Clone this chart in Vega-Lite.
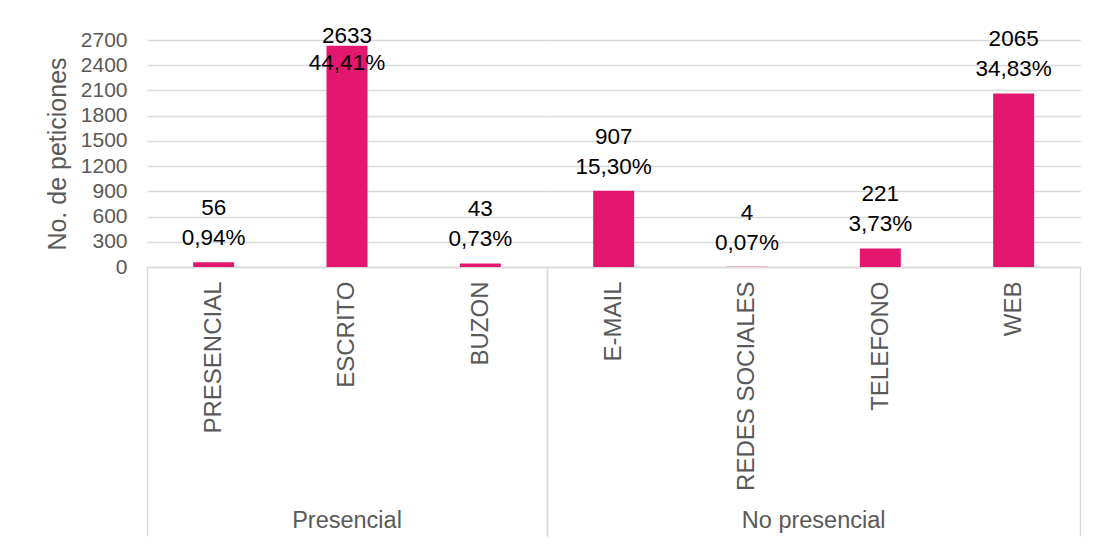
{
  "$schema": "https://vega.github.io/schema/vega-lite/v6.json",
  "padding": {"left": 45, "top": 24, "right": 5, "bottom": 5},
  "background": "white",
  "data": {
    "values": [
      {"grupo": "Presencial", "canal": "PRESENCIAL", "n": 56, "pct": "0,94%"},
      {"grupo": "Presencial", "canal": "ESCRITO", "n": 2633, "pct": "44,41%"},
      {"grupo": "Presencial", "canal": "BUZON", "n": 43, "pct": "0,73%"},
      {"grupo": "No presencial", "canal": "E-MAIL", "n": 907, "pct": "15,30%"},
      {"grupo": "No presencial", "canal": "REDES SOCIALES", "n": 4, "pct": "0,07%"},
      {"grupo": "No presencial", "canal": "TELEFONO", "n": 221, "pct": "3,73%"},
      {"grupo": "No presencial", "canal": "WEB", "n": 2065, "pct": "34,83%"}
    ]
  },
  "facet": {
    "column": {
      "field": "grupo",
      "type": "nominal",
      "sort": ["Presencial", "No presencial"],
      "header": {
        "title": null,
        "labelOrient": "bottom",
        "labelFont": "Liberation Sans",
        "labelFontSize": 23.5,
        "labelColor": "#595959",
        "labelPadding": 242
      }
    }
  },
  "spacing": 0,
  "bounds": "flush",
  "resolve": {"scale": {"x": "independent"}},
  "spec": {
    "width": {"step": 133.33},
    "height": 227,
    "encoding": {
      "x": {
        "field": "canal",
        "type": "nominal",
        "sort": null,
        "scale": {"paddingInner": 0, "paddingOuter": 0},
        "axis": {
          "title": null,
          "labelAngle": -90,
          "labelFont": "Liberation Sans",
          "labelFontSize": 24,
          "labelColor": "#595959",
          "labelPadding": -255,
          "labelLimit": 400,
          "domainColor": "#d9d9d9",
          "domainWidth": 1.3,
          "tickBand": "extent",
          "tickSize": 269,
          "tickWidth": 1.3,
          "tickColor": {
            "condition": {"test": "!datum.value || datum.value == 'BUZON' || datum.value == 'WEB'", "value": "#d9d9d9"},
            "value": "transparent"
          }
        }
      },
      "y": {
        "field": "n",
        "type": "quantitative",
        "scale": {"domain": [0, 2700], "nice": false},
        "axis": {
          "title": "No. de peticiones",
          "titleFont": "Liberation Sans",
          "titleFontSize": 25,
          "titleFontWeight": "normal",
          "titleColor": "#595959",
          "titlePadding": 10,
          "format": "d",
          "values": [0, 300, 600, 900, 1200, 1500, 1800, 2100, 2400, 2700],
          "labelFont": "Liberation Sans",
          "labelFontSize": 21,
          "labelColor": "#595959",
          "labelPadding": 20,
          "ticks": false,
          "domain": false,
          "gridColor": "#d9d9d9",
          "gridWidth": 1.3
        }
      }
    },
    "layer": [
      {"mark": {"type": "bar", "color": "#E3176D", "width": 41}},
      {
        "transform": [{"filter": "datum.n < 2600"}],
        "mark": {"type": "text", "font": "Liberation Sans", "fontSize": 22.5, "color": "#000000", "baseline": "middle", "dy": -54},
        "encoding": {"text": {"field": "n", "type": "quantitative", "format": "d"}}
      },
      {
        "transform": [{"filter": "datum.n < 2600"}],
        "mark": {"type": "text", "font": "Liberation Sans", "fontSize": 22.5, "color": "#000000", "baseline": "middle", "dy": -24},
        "encoding": {"text": {"field": "pct", "type": "nominal"}}
      },
      {
        "transform": [{"filter": "datum.n >= 2600"}],
        "mark": {"type": "text", "font": "Liberation Sans", "fontSize": 22.5, "color": "#000000", "baseline": "middle", "dy": -10},
        "encoding": {"text": {"field": "n", "type": "quantitative", "format": "d"}}
      },
      {
        "transform": [{"filter": "datum.n >= 2600"}],
        "mark": {"type": "text", "font": "Liberation Sans", "fontSize": 22.5, "color": "#000000", "baseline": "middle", "dy": 17},
        "encoding": {"text": {"field": "pct", "type": "nominal"}}
      }
    ]
  },
  "config": {
    "view": {"stroke": null},
    "axis": {"grid": true},
    "axisX": {"grid": false}
  }
}
